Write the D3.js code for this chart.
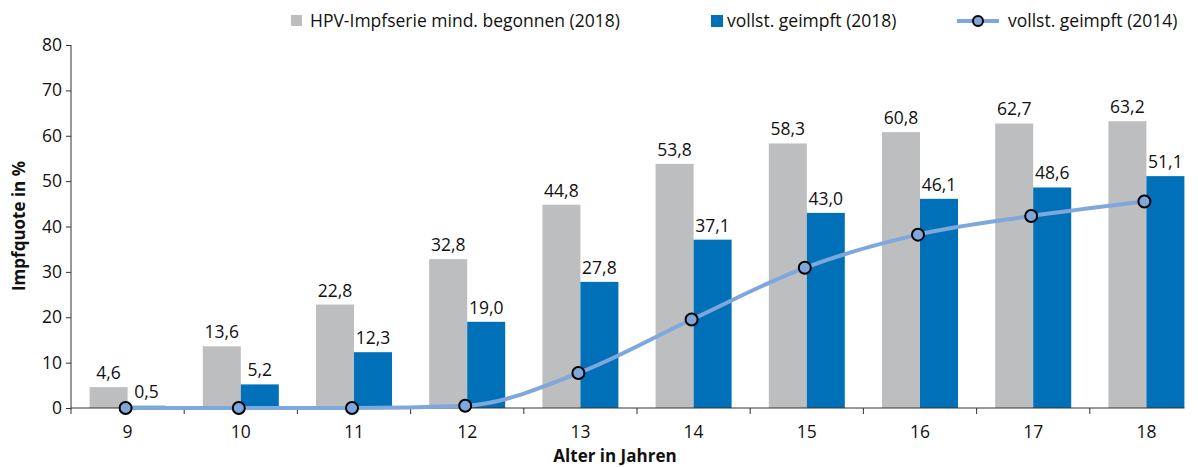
<!DOCTYPE html>
<html><head><meta charset="utf-8">
<script src="https://cdn.jsdelivr.net/npm/d3@7"></script>
<style>body{margin:0;background:#fff;}svg{display:block;font-family:"Open Sans",sans-serif;}</style>
</head><body><svg id="c" width="1198" height="467"></svg>
<script>
const categories = ["9","10","11","12","13","14","15","16","17","18"];
const begun2018 = [4.6,13.6,22.8,32.8,44.8,53.8,58.3,60.8,62.7,63.2];
const full2018 = [0.5,5.2,12.3,19.0,27.8,37.1,43.0,46.1,48.6,51.1];
const full2014 = [0,0,0,0.5,7.7,19.5,30.9,38.2,42.3,45.5];
const yTicks = [0,10,20,30,40,50,60,70,80];
const legendLabels = ["HPV-Impfserie mind. begonnen (2018)","vollst. geimpft (2018)","vollst. geimpft (2014)"];

const svg = d3.select("#c");
const mLeft = 71, mBottom = 408, mTop = 45;
const step = 113.2;
const fs = 17.5;
const x = d3.scaleBand().domain(categories).range([mLeft, mLeft + step*categories.length]).padding(0);
const sub = d3.scaleBand().domain(["a","b"]).range([0, x.bandwidth()]).paddingInner(0).paddingOuter((step/38-2)/2);
const y = d3.scaleLinear().domain([0,80]).range([mBottom, mTop]);
const fmt = v => d3.format(".1f")(v).replace(".", ",");
const gray = "#bdbec0", blue = "#0070b9", lineC = "#7ea7dc", axisC = "#333";

// bars
const g = svg.append("g");
g.selectAll("rect.a").data(categories).join("rect")
  .attr("x", d => x(d) + sub("a")).attr("width", sub.bandwidth())
  .attr("y", (d,i) => y(begun2018[i])).attr("height", (d,i) => y(0) - y(begun2018[i]))
  .attr("fill", gray);
g.selectAll("rect.b").data(categories).join("rect")
  .attr("x", d => x(d) + sub("b")).attr("width", sub.bandwidth())
  .attr("y", (d,i) => y(full2018[i])).attr("height", (d,i) => y(0) - y(full2018[i]))
  .attr("fill", blue);

// value labels
const lblStyle = s => s.attr("font-size", fs).attr("fill", "#111").attr("text-anchor", "middle");
g.selectAll("text.a").data(categories).join("text").call(lblStyle)
  .attr("x", d => x(d) + sub("a") + sub.bandwidth()/2)
  .attr("y", (d,i) => y(begun2018[i]) - 8).text((d,i) => fmt(begun2018[i]));
g.selectAll("text.b").data(categories).join("text").call(lblStyle)
  .attr("x", d => x(d) + sub("b") + sub.bandwidth()/2)
  .attr("y", (d,i) => y(full2018[i]) - 8).text((d,i) => fmt(full2018[i]));

// y axis
const yAxis = svg.append("g").attr("transform", `translate(${mLeft},0)`)
  .call(d3.axisLeft(y).tickValues(yTicks).tickSize(5).tickPadding(4).tickFormat(d3.format("d")));
yAxis.select(".domain").remove();
yAxis.selectAll("line").attr("stroke", axisC);
yAxis.selectAll("text").attr("font-size", fs).attr("fill", "#111").attr("font-family", "Open Sans");
svg.append("line").attr("x1", mLeft).attr("x2", mLeft).attr("y1", mTop).attr("y2", mBottom + 6).attr("stroke", axisC);

// x axis
svg.append("line").attr("x1", mLeft).attr("x2", x("18") + sub("b") + sub.bandwidth()).attr("y1", mBottom).attr("y2", mBottom).attr("stroke", axisC);
svg.append("g").selectAll("line").data(categories.slice(1)).join("line")
  .attr("x1", d => x(d)).attr("x2", d => x(d)).attr("y1", mBottom).attr("y2", mBottom + 6).attr("stroke", axisC);
svg.append("g").selectAll("text").data(categories).join("text")
  .attr("x", d => x(d) + x.bandwidth()/2).attr("y", 438).attr("text-anchor", "middle")
  .attr("font-size", fs).attr("fill", "#111").text(d => d);

// line 2014
const lineGen = d3.line().x((d,i) => x(categories[i]) + x.bandwidth()/2 - 2).y(d => y(d)).curve(d3.curveMonotoneX);
svg.append("path").datum(full2014).attr("d", lineGen).attr("fill", "none").attr("stroke", lineC).attr("stroke-width", 4);
svg.append("g").selectAll("circle").data(full2014).join("circle")
  .attr("cx", (d,i) => x(categories[i]) + x.bandwidth()/2 - 2).attr("cy", d => y(d))
  .attr("r", 6).attr("fill", lineC).attr("stroke", "#000").attr("stroke-width", 2);

// axis titles
svg.append("text").attr("transform", "translate(25,226) rotate(-90)").attr("text-anchor", "middle")
  .attr("font-size", fs - 0.5).attr("font-weight", "bold").attr("fill", "#111").text("Impfquote in %");
svg.append("text").attr("x", 615).attr("y", 462).attr("text-anchor", "middle")
  .attr("font-size", fs - 0.5).attr("font-weight", "bold").attr("fill", "#111").text("Alter in Jahren");

// legend
const lg = svg.append("g").attr("font-size", fs).attr("fill", "#111");
lg.append("rect").attr("x", 291).attr("y", 15).attr("width", 11).attr("height", 11).attr("fill", gray);
lg.append("text").attr("x", 310).attr("y", 27).text(legendLabels[0]);
lg.append("rect").attr("x", 711).attr("y", 15).attr("width", 12).attr("height", 12).attr("fill", blue);
lg.append("text").attr("x", 727).attr("y", 27).text(legendLabels[1]);
lg.append("line").attr("x1", 957).attr("x2", 999).attr("y1", 21).attr("y2", 21).attr("stroke", lineC).attr("stroke-width", 4);
lg.append("circle").attr("cx", 978).attr("cy", 21).attr("r", 5).attr("fill", lineC).attr("stroke", "#000").attr("stroke-width", 2);
lg.append("text").attr("x", 1008).attr("y", 27).text(legendLabels[2]);
</script></body></html>
